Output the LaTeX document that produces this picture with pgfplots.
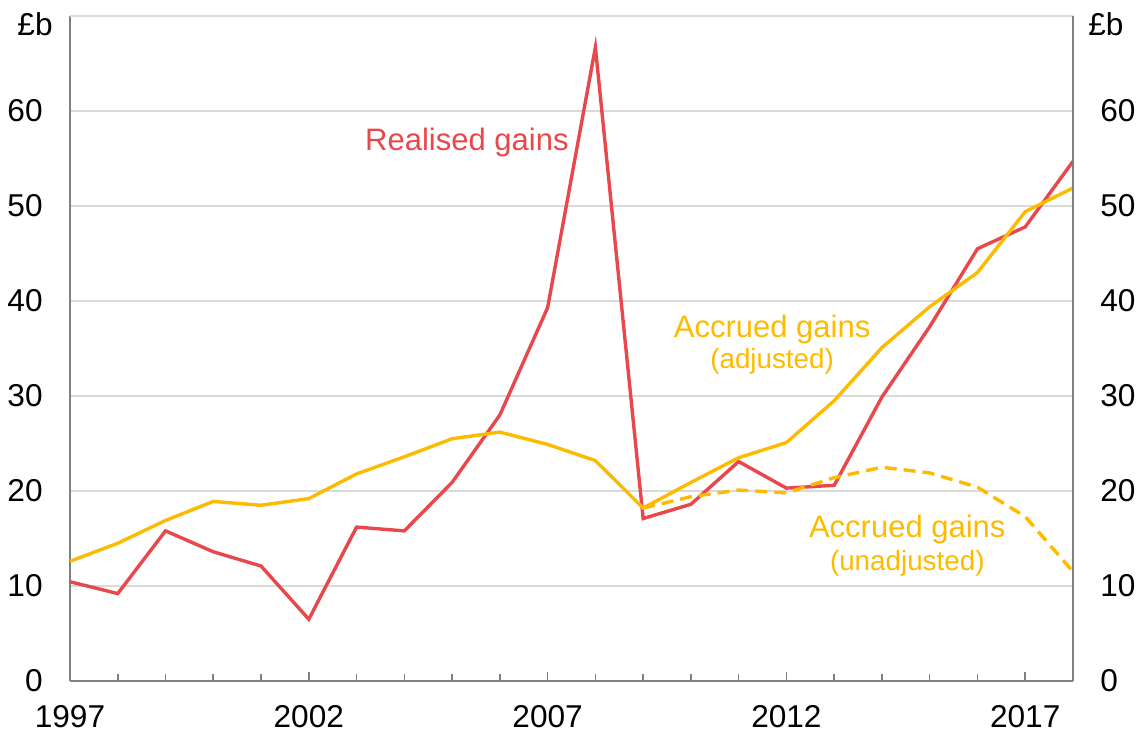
\documentclass[border=0pt]{standalone}
\usepackage{fontspec}
\setmainfont{Liberation Sans}
\usepackage{pgfplots}
\pgfplotsset{compat=1.18}
\definecolor{rred}{HTML}{E8474C}
\definecolor{ayel}{HTML}{FDBB00}
\definecolor{gridc}{HTML}{DADADA}
\definecolor{axc}{HTML}{808080}
\begin{document}
\begin{tikzpicture}
\pgfplotsset{
  common/.style={
    scale only axis, width=501.5pt, height=332.5pt,
    xmin=1997, xmax=2018, ymin=0, ymax=70,
    /pgf/number format/assume math mode=true,
    tick label style={font=\fontsize{15.8}{16}\selectfont, text=black},
  }
}
\begin{axis}[common, name=ax,
  axis x line*=bottom, axis y line*=left,
  axis line style={axc, line width=0.8pt},
  xtick={1997,2002,2007,2012,2017},
  minor xtick={1997,...,2018},
  xticklabel style={/pgf/number format/1000 sep={}, anchor=base, inner sep=0pt, yshift=-23.5pt},
  tick align=inside,
  major tick length=4.5pt, minor tick length=3.3pt,
  xtick style={axc, line width=0.8pt},
  ytick={0,10,...,60},
  ytick style={draw=none},
  yticklabel style={anchor=east, inner sep=0pt, xshift=-13.5pt},
  extra y ticks={70}, extra y tick labels={},
  extra y tick style={grid=major, major tick length=0pt},
  ymajorgrids, grid style={gridc, line width=0.6pt},
  clip=false,
]
\addplot[rred, line width=1.7pt] coordinates {
(1997,10.45) (1998,9.2) (1999,15.8) (2000,13.6) (2001,12.1) (2002,6.5)
(2003,16.2) (2004,15.8) (2005,20.9) (2006,28.0) (2007,39.3) (2008,66.7)
(2009,17.1) (2010,18.6) (2011,23.1) (2012,20.3) (2013,20.6) (2014,29.9)
(2015,37.3) (2016,45.5) (2017,47.8) (2018,54.7)};
\addplot[ayel, line width=1.7pt] coordinates {
(1997,12.6) (1998,14.5) (1999,16.9) (2000,18.9) (2001,18.5) (2002,19.2)
(2003,21.8) (2004,23.6) (2005,25.5) (2006,26.2) (2007,24.9) (2008,23.2)
(2009,18.2) (2010,20.9) (2011,23.5) (2012,25.1) (2013,29.5) (2014,35.1)
(2015,39.4) (2016,43.0) (2017,49.4) (2018,51.9)};
\addplot[ayel, line width=1.7pt, dash pattern=on 6pt off 3.5pt] coordinates {
(2009,18.2) (2010,19.4) (2011,20.1) (2012,19.8) (2013,21.4) (2014,22.5)
(2015,21.9) (2016,20.4) (2017,17.3) (2018,11.5)};
\node[rred, font=\fontsize{15.5}{16}\selectfont] at (axis cs:2005.31,56.7) {Realised gains};
\node[ayel, font=\fontsize{15.5}{16}\selectfont] at (axis cs:2011.7,37.05) {Accrued gains};
\node[ayel, font=\fontsize{13.9}{14}\selectfont] at (axis cs:2011.7,33.6) {(adjusted)};
\node[ayel, font=\fontsize{15.5}{16}\selectfont] at (axis cs:2014.53,15.9) {Accrued gains};
\node[ayel, font=\fontsize{13.9}{14}\selectfont] at (axis cs:2014.53,12.4) {(unadjusted)};
\node[anchor=east, inner sep=0pt, font=\fontsize{15.8}{16}\selectfont] at ([xshift=-8.5pt,yshift=-4.2pt]rel axis cs:0,1) {£b};
\end{axis}
\begin{axis}[common,
  axis x line=none, axis y line*=right,
  axis line style={axc, line width=0.8pt},
  ytick={0,10,...,60},
  ytick style={draw=none},
  yticklabel style={anchor=west, inner sep=0pt, xshift=13.5pt},
  clip=false,
]
\node[anchor=west, inner sep=0pt, font=\fontsize{15.8}{16}\selectfont] at ([xshift=7.5pt,yshift=-4.2pt]rel axis cs:1,1) {£b};
\end{axis}
\pgfresetboundingbox
\path (ax.south west) ++(-35pt,-26.5pt) coordinate (bl);
\path (ax.north east) ++(35.5pt,8pt) coordinate (tr);
\path[use as bounding box] (bl) rectangle (tr);
\end{tikzpicture}
\end{document}
